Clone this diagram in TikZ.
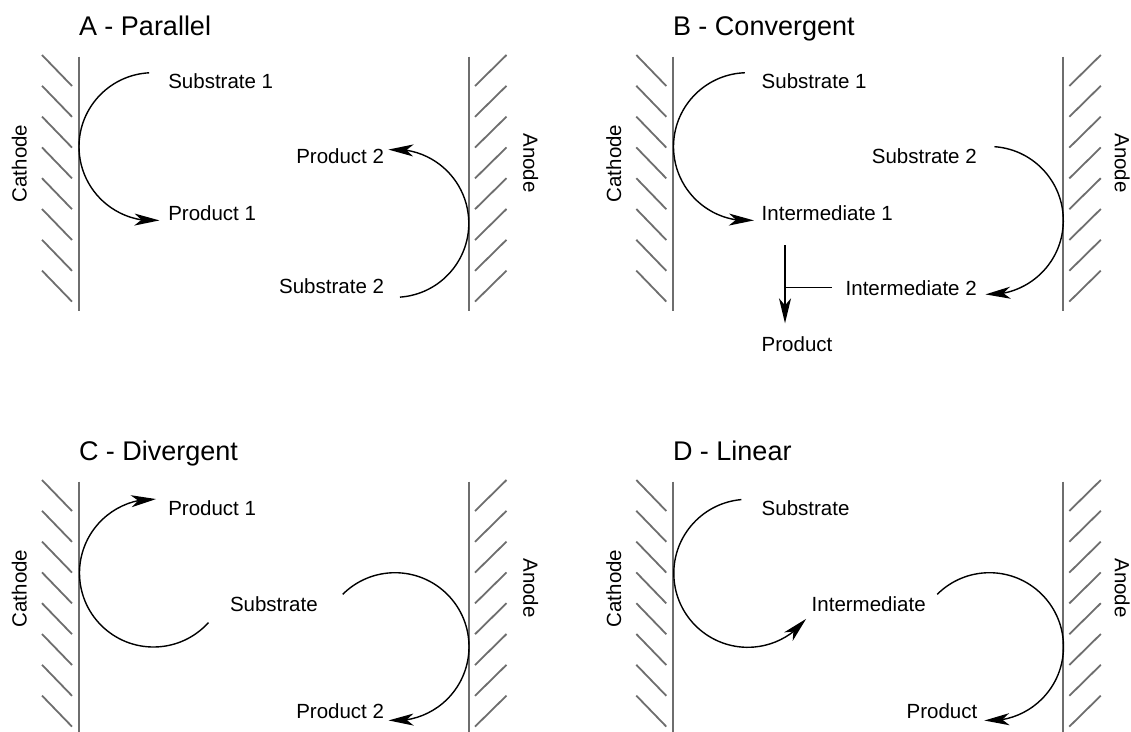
\documentclass[tikz,border=0pt]{standalone}
\usepackage{fontspec}
\setmainfont{Liberation Sans}
\usetikzlibrary{arrows.meta,bending}
\definecolor{elgray}{RGB}{110,110,110}
\begin{document}
\begin{tikzpicture}[x=1pt,y=1pt,
  lbl/.style={inner sep=0pt, outer sep=0pt, font=\fontsize{20.5}{24}\selectfont},
  ttl/.style={inner sep=0pt, outer sep=0pt, font=\fontsize{27}{32}\selectfont, anchor=base west},
  electrode/.style={draw=elgray, line width=2pt},
  hatch/.style={draw=elgray, line width=1.8pt},
  flow/.style={draw=black, line width=1.4pt},
  tip/.style={-{Stealth[flex, length=25pt, width=12pt, inset=7pt]}}
]
\useasboundingbox (0,0) rectangle (1131,-731);

% electrodes for the four panels
\foreach \dx/\dy/\ax/\p in {0/0/523.3/A, 594.3/0/1114.8/B, 0/-425/523.3/C, 594.3/-425/1114.8/D}{
  \draw[electrode] ({79+\dx},{-56.5+\dy}) -- ({79+\dx},{-310.5+\dy});
  \draw[electrode] ({469+\dx},{-56.5+\dy}) -- ({469+\dx},{-310.5+\dy});
  \foreach \k in {0,...,7}{
    \draw[hatch] ({42+\dx},{-(55+30.8*\k)+\dy}) -- ++(30,-31);
    \draw[hatch] ({475+\dx},{-(86+30.8*\k)+\dy}) -- ++(31.5,31);
  }
  \node[lbl, rotate=90, anchor=base] (cath\p) at ({26.7+\dx},{-163.5+\dy}) {Cathode};
  \node[lbl, rotate=-90, anchor=base] (anod\p) at (\ax,{-163+\dy}) {Anode};
}

% titles
\node[ttl] (tA) at (79,-35.7) {A - Parallel};
\node[ttl] (tB) at (673,-35.7) {B - Convergent};
\node[ttl] (tC) at (79,-460.7) {C - Divergent};
\node[ttl] (tD) at (673,-460.7) {D - Linear};

% ---------- A ----------
\node[lbl, anchor=base west] (aS1) at (168.3,-88.3) {Substrate 1};
\node[lbl, anchor=base west] (aP1) at (168.3,-220) {Product 1};
\node[lbl, anchor=base east] (aP2) at (384,-163.3) {Product 2};
\node[lbl, anchor=base east] (aS2) at (384,-293.3) {Substrate 2};
\coordinate (cA1) at (153,-146.7);
\coordinate (cA2) at (394.8,-223.3);
\draw[flow,tip] (cA1) ++(93:74) arc[start angle=93, end angle=275, radius=74];
\draw[flow,tip] (cA2) ++(-86:74) arc[start angle=-86, end angle=95, radius=74];

% ---------- B ----------
\node[lbl, anchor=base west] (bS1) at (761.7,-88.3) {Substrate 1};
\node[lbl, anchor=base west] (bI1) at (761.7,-220) {Intermediate 1};
\node[lbl, anchor=base east] (bS2) at (976.7,-163.3) {Substrate 2};
\node[lbl, anchor=base east] (bI2) at (976.7,-295) {Intermediate 2};
\node[lbl, anchor=base west] (bP) at (761.7,-351.7) {Product};
\coordinate (cB1) at (747.5,-146.7);
\coordinate (cB2) at (989.3,-220.5);
\draw[flow,tip] (cB1) ++(92:74) arc[start angle=92, end angle=275, radius=74];
\draw[flow,tip] (cB2) ++(86:74) arc[start angle=86, end angle=-93, radius=74];
\coordinate (vTop) at (785,-245);
\coordinate (vBot) at (785,-323.3);
\coordinate (hL) at (785,-287.7);
\coordinate (hR) at (831.7,-287.7);
\draw[flow,tip] (vTop) -- (vBot);
\draw[flow] (hL) -- (hR);

% ---------- C ----------
\node[lbl, anchor=base west] (cP1) at (168.3,-515) {Product 1};
\node[lbl, anchor=base west] (cS) at (230,-611) {Substrate};
\node[lbl, anchor=base east] (cP2) at (384,-718.3) {Product 2};
\coordinate (cC1) at (153.5,-573);
\coordinate (cC2) at (395,-646.7);
\draw[flow,tip] (cC1) ++(-42:74) arc[start angle=-42, end angle=-272, radius=74];
\draw[flow,tip] (cC2) ++(135:74) arc[start angle=135, end angle=-95, radius=74];

% ---------- D ----------
\node[lbl, anchor=base west] (dS) at (761.7,-515) {Substrate};
\node[lbl, anchor=base west] (dI) at (811.7,-611) {Intermediate};
\node[lbl, anchor=base east] (dP) at (977.3,-718.3) {Product};
\coordinate (cD1) at (747.8,-573.3);
\coordinate (cD2) at (989.5,-646.7);
\draw[flow,tip] (cD1) ++(95:74) arc[start angle=95, end angle=322, radius=74];
\draw[flow,tip] (cD2) ++(135:74) arc[start angle=135, end angle=-94, radius=74];
\end{tikzpicture}
\end{document}
